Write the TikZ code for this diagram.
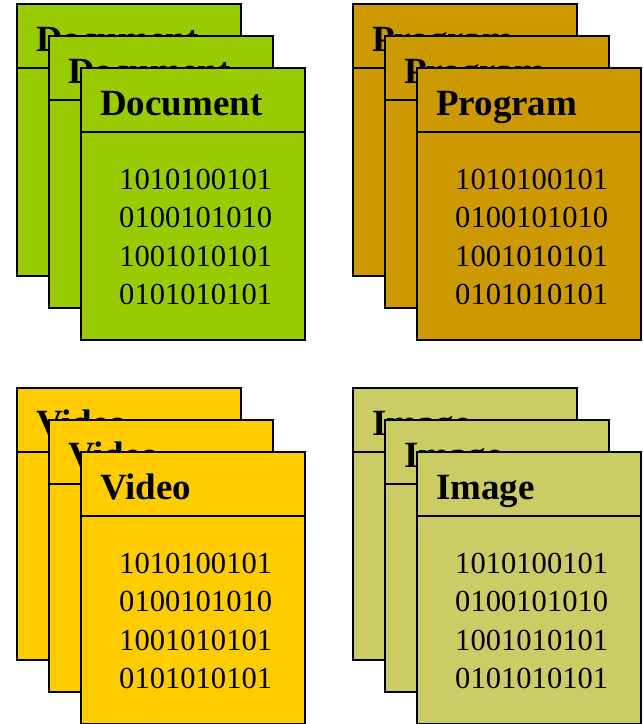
\documentclass[tikz,border=0pt]{standalone}
\usepackage{fontspec}
\setmainfont{Liberation Serif}

\definecolor{docgreen}{HTML}{99CC00}
\definecolor{proggold}{HTML}{CC9900}
\definecolor{vidyellow}{HTML}{FFCC00}
\definecolor{imgolive}{HTML}{CCCC66}

\tikzset{
  cardframe/.style={draw=black, line width=2.8pt},
  cardtitle/.style={anchor=base west, inner sep=0pt,
    font=\fontsize{37}{37}\selectfont\bfseries},
  cardbits/.style={anchor=base west, inner sep=0pt,
    font=\fontsize{30.6}{30.6}\selectfont},
}

% one file card: #1,#2 top-left corner, #3 fill, #4 title, #5 node prefix
\newcommand\filecard[5]{%
  \filldraw[cardframe, fill=#3] (#1,#2) rectangle ++(224,272);
  \draw[cardframe] (#1,#2+64) -- ++(224,0);
  \node[cardtitle] (#5-title) at (#1+19,#2+47) {#4};
}
% binary contents shown on the front card
\newcommand\filebits[3]{%
  \node[cardbits] (#3-b1) at (#1+38,#2+121.3) {1010100101};
  \node[cardbits] (#3-b2) at (#1+38,#2+159.6) {0100101010};
  \node[cardbits] (#3-b3) at (#1+38,#2+198)   {1001010101};
  \node[cardbits] (#3-b4) at (#1+38,#2+236.3) {0101010101};
}
% a stack of three cards, each shifted by 32 down and right
\newcommand\filestack[4]{%
  \filecard{#1}{#2}{#3}{#4}{#4-a}
  \filecard{#1+32}{#2+32}{#3}{#4}{#4-b}
  \filecard{#1+64}{#2+64}{#3}{#4}{#4-c}
  \filebits{#1+64}{#2+64}{#4-c}
}

\begin{document}
\begin{tikzpicture}[x=1pt, y=-1pt]
  \useasboundingbox (0,0) rectangle (643,724);
  \filestack{17}{4}{docgreen}{Document}
  \filestack{353}{4}{proggold}{Program}
  \filestack{17}{388}{vidyellow}{Video}
  \filestack{353}{388}{imgolive}{Image}
\end{tikzpicture}
\end{document}
